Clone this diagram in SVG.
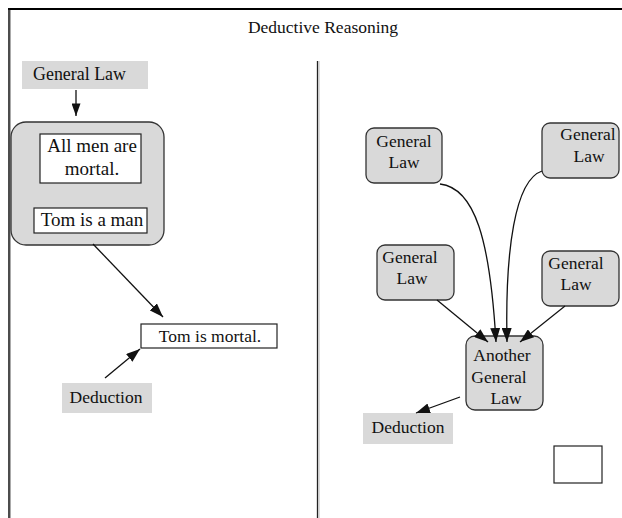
<svg xmlns="http://www.w3.org/2000/svg" width="622" height="518" viewBox="0 0 622 518">
<defs>
<style>
text{font-family:"Liberation Serif","Times New Roman",serif;fill:#111}
.t{font-size:17.5px}
.big{font-size:19px}
.lbl{fill:#d9d9d9;stroke:none}
.rnode{fill:#d9d9d9;stroke:#333;stroke-width:1.3}
.box{fill:#fff;stroke:#222;stroke-width:1.2}
.edge{fill:none;stroke:#111;stroke-width:1.3}
</style>
<marker id="ah" viewBox="0 0 14 10" refX="14" refY="5" markerWidth="14" markerHeight="9" orient="auto" markerUnits="userSpaceOnUse">
<path d="M0,0 L14,5 L0,10 z" fill="#111"/>
</marker>
<marker id="ahb" viewBox="0 0 14 10" refX="14" refY="5" markerWidth="14" markerHeight="10" orient="auto" markerUnits="userSpaceOnUse">
<path d="M0,0 L14,5 L0,10 z" fill="#111"/>
</marker>
</defs>
<rect width="622" height="518" fill="#fff"/>
<g id="frame">
<line x1="8" y1="9" x2="622" y2="9" stroke="#000" stroke-width="2"/>
<line x1="9" y1="8" x2="9" y2="518" stroke="#111" stroke-width="1.5"/>
<line x1="10.5" y1="10" x2="10.5" y2="518" stroke="#aaa" stroke-width="1"/>
<line x1="317.5" y1="61" x2="317.5" y2="518" stroke="#222" stroke-width="1.3"/>
<line x1="319" y1="61" x2="319" y2="518" stroke="#bbb" stroke-width="1"/>
<text x="323" y="33" text-anchor="middle" class="t">Deductive Reasoning</text>
</g>
<g id="left-general-law">
<rect class="lbl" x="22" y="61" width="126" height="28"/>
<text x="33" y="80" textLength="93" lengthAdjust="spacingAndGlyphs" class="big">General Law</text>
</g>
<g id="premises">
<rect class="rnode" x="11" y="122" width="153" height="123" rx="15"/>
<g id="premise-1">
<rect class="box" x="40" y="134" width="101" height="49"/>
<text x="92" y="152" text-anchor="middle" class="big">All men are</text>
<text x="92" y="175" text-anchor="middle" class="big">mortal.</text>
</g>
<g id="premise-2">
<rect class="box" x="34" y="208" width="113" height="25"/>
<text x="92" y="226" text-anchor="middle" class="big">Tom is a man</text>
</g>
</g>
<g id="conclusion">
<rect class="box" x="141" y="324" width="136" height="24"/>
<text x="210" y="342" text-anchor="middle" class="t">Tom is mortal.</text>
</g>
<g id="left-deduction">
<rect class="lbl" x="62" y="383" width="90" height="30"/>
<text x="106" y="403" text-anchor="middle" class="t">Deduction</text>
</g>
<g id="gl1">
<rect class="rnode" x="366" y="128" width="76" height="55" rx="8"/>
<text x="404" y="147" text-anchor="middle" class="t">General</text>
<text x="404" y="168" text-anchor="middle" class="t">Law</text>
</g>
<g id="gl2">
<rect class="rnode" x="542" y="123" width="77" height="55" rx="8"/>
<text x="588" y="140" text-anchor="middle" class="t">General</text>
<text x="589" y="162" text-anchor="middle" class="t">Law</text>
</g>
<g id="gl3">
<rect class="rnode" x="377" y="245" width="77" height="55" rx="8"/>
<text x="410" y="263" text-anchor="middle" class="t">General</text>
<text x="412" y="284" text-anchor="middle" class="t">Law</text>
</g>
<g id="gl4">
<rect class="rnode" x="542" y="251" width="77" height="55" rx="8"/>
<text x="576" y="269" text-anchor="middle" class="t">General</text>
<text x="576" y="290" text-anchor="middle" class="t">Law</text>
</g>
<g id="another">
<rect class="rnode" x="466" y="336" width="77" height="74" rx="9"/>
<text x="502" y="361" text-anchor="middle" class="t">Another</text>
<text x="499" y="383" text-anchor="middle" class="t">General</text>
<text x="506" y="404" text-anchor="middle" class="t">Law</text>
</g>
<g id="right-deduction">
<rect class="lbl" x="363" y="413" width="90" height="31"/>
<text x="408" y="433" text-anchor="middle" class="t">Deduction</text>
</g>
<g id="empty-box">
<rect class="box" x="554" y="446" width="48" height="37"/>
</g>
<g id="connectors">
<line class="edge" x1="76" y1="90" x2="76" y2="116" marker-end="url(#ah)"/>
<line class="edge" x1="93" y1="244" x2="163" y2="317" marker-end="url(#ahb)"/>
<line class="edge" x1="105" y1="378" x2="140" y2="349" marker-end="url(#ahb)"/>
<path class="edge" d="M440,184 C475,188 490,240 496,342" marker-end="url(#ahb)"/>
<path class="edge" d="M542,171 C515,180 505,250 507,342" marker-end="url(#ahb)"/>
<line class="edge" x1="437" y1="300" x2="488" y2="342" marker-end="url(#ahb)"/>
<line class="edge" x1="565" y1="306" x2="520" y2="342" marker-end="url(#ahb)"/>
<line class="edge" x1="460" y1="397" x2="416" y2="413" marker-end="url(#ahb)"/>
</g>
</svg>
